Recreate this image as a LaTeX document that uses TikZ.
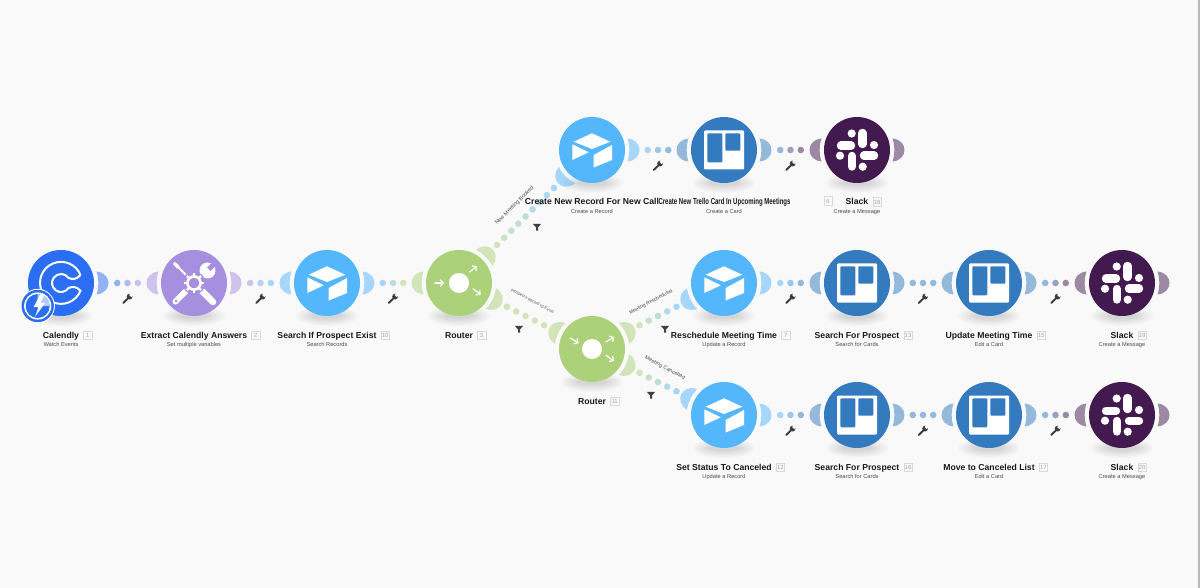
\documentclass[tikz,border=0pt]{standalone}
\usepackage{fontspec}
\usepackage{graphicx}
\setmainfont{Liberation Sans}
\usetikzlibrary{calc,arrows.meta}
\definecolor{bgc}{HTML}{F9F9F9}
\definecolor{cal}{HTML}{2B6DF3}
\definecolor{tool}{HTML}{A78FE0}
\definecolor{air}{HTML}{55B7FB}
\definecolor{rout}{HTML}{ABD27A}
\definecolor{tre}{HTML}{337ABF}
\definecolor{sla}{HTML}{431A4F}
\definecolor{ink}{HTML}{1A1A1A}
\tikzset{
 x=1pt,y=-1pt,
 modc/.style={circle,minimum size=66pt,inner sep=0pt,fill=#1,draw=none},
 titlelab/.style={font=\bfseries\fontsize{8.65}{10}\selectfont,text=ink,anchor=base,inner sep=0pt},
 sublab/.style={font=\fontsize{5.7}{7}\selectfont,text=black!70,anchor=base,inner sep=0pt},
 numbox/.style={draw=black!15,line width=.5pt,font=\fontsize{6}{6}\selectfont,text=black!35,minimum width=8.5pt,minimum height=8.5pt,inner sep=0pt},
 linklab/.style={font=\fontsize{5}{6}\selectfont,text=black!70,inner sep=0pt},
 rarrow/.style={white,line width=1.2pt,line cap=round,-{Straight Barb[length=3pt,width=6.5pt,line width=1.2pt]}},
}
\newcommand{\moon}[3]{%
 \begin{scope}[shift={(#1)},rotate=#2]
  \fill[#3,opacity=.5] (35.5,-11.5) .. controls (51.5,-10) and (51.5,10) .. (35.5,11.5) .. controls (38,4) and (38,-4) .. cycle;
 \end{scope}}
\newcommand{\shadowc}[1]{\foreach \s in {0,1,...,6}{\fill[black,opacity=.02] ($(#1)+(0,33)$) ellipse[x radius={31-2.6*\s},y radius={10-1.2*\s}];}}
\newcommand{\airicon}[1]{\begin{scope}[shift={(#1)}]
 \fill[white] (0,-16.7) -- (18.3,-8.3) -- (0,-1) -- (-18.3,-8.3) -- cycle;
 \fill[white] (1.7,5) -- (20,-5) -- (20,10) -- (1.7,17.5) -- cycle;
 \fill[white] (-19.7,-5.7) -- (-3.3,2.3) -- (-19.7,10) -- cycle;
 \end{scope}}
\newcommand{\treicon}[1]{\begin{scope}[shift={(#1)}]
 \fill[white,rounded corners=1pt] (-20,-19.5) rectangle (20,19.5);
 \fill[tre,rounded corners=1pt] (-16.7,-16.7) rectangle (-1.7,12.3);
 \fill[tre,rounded corners=1pt] (1.3,-16.7) rectangle (16.3,.7);
 \end{scope}}
\newcommand{\slaicon}[1]{\begin{scope}[shift={(#1)}]
 \begin{scope}[line cap=round,line width=8.4pt,white]
 \draw (-16,-4.3) -- (-6,-4.3);
 \draw (5.5,-17) -- (5.5,-6);
 \draw (17,5.7) -- (7,5.7);
 \draw (-5.3,16.5) -- (-5.3,6);
 \end{scope}
 \fill[white] (-5.3,-16.5) circle[radius=4.1];
 \fill[white] (17,-5) circle[radius=4.1];
 \fill[white] (5.7,16.7) circle[radius=4.1];
 \fill[white] (-17,5.7) circle[radius=4.1];
 \end{scope}}
\newcommand{\routa}[1]{\begin{scope}[shift={(#1)}]
 \fill[white] (0,0) circle[radius=10];
 \draw[rarrow] (-24,0) -- (-15,0);
 \draw[rarrow] (10.7,-11) -- (18,-17);
 \draw[rarrow] (14,5.7) -- (21.7,11.7);
 \end{scope}}
\newcommand{\routb}[1]{\begin{scope}[shift={(#1)}]
 \fill[white] (0,0) circle[radius=10];
 \draw[rarrow] (-21.7,-11) -- (-13.3,-6);
 \draw[rarrow] (14,-7) -- (22.3,-12);
 \draw[rarrow] (14,6.3) -- (22,12);
 \end{scope}}
\newcommand{\wrench}[1]{\begin{scope}[shift={(#1)}]
 \draw[ink!85,line width=1.9pt,line cap=round] (-4.2,4.4) -- (1,-.6);
 \fill[ink!85] (2.1,-1.9) circle[radius=2.9];
 \fill[bgc] (1.6,-3.6) -- (3.6,-5.6) -- (6,-3.4) -- (3.8,-1.4) -- cycle;
 \end{scope}}
\newcommand{\funnel}[2]{\fill[black!75] ($(#1,#2)+(-4.2,-3.2)$) -- ($(#1,#2)+(4.2,-3.2)$) -- ($(#1,#2)+(1,.5)$) -- ($(#1,#2)+(1,3.6)$) -- ($(#1,#2)+(-1,3.6)$) -- ($(#1,#2)+(-1,.5)$) -- cycle;}
\newcommand{\modlab}[4]{%
 \node[titlelab] (#1-t) at ($(#1)+(0,55)$) {#2};
 \node[numbox,anchor=west] (#1-n) at ($(#1-t.base east)+(4,-3)$) {#3};
 \node[sublab] (#1-s) at ($(#1)+(0,63.5)$) {#4};}
\newcommand{\linkdots}[7]{%
 \foreach \i [evaluate=\i as \pc using {int(100-100*\i/#5)},evaluate=\i as \tt using {#3+#4*\i}] in {0,...,#5}{%
  \fill[#6!\pc!#7,opacity=.5] ($(#1)!\tt!(#2)$) circle[radius=3.3];}}
\newcommand{\hdots}[4]{\linkdots{#1}{#2}{.4225}{.0775}{2}{#3}{#4}}
\begin{document}
\begin{tikzpicture}
\useasboundingbox (0,0) rectangle (1200,588);
\fill[bgc] (0,0) rectangle (1200,588);
\fill[black!28] (1198,0) rectangle (1200,588);
\coordinate (pa) at (61,283); \coordinate (pb) at (194,283); \coordinate (pc) at (327,283);
\coordinate (pd) at (459,283); \coordinate (pe) at (592,150); \coordinate (pf) at (724,150);
\coordinate (pg) at (857,150); \coordinate (ph) at (592,349); \coordinate (pi) at (724,283);
\coordinate (pj) at (857,283); \coordinate (pk) at (989,283); \coordinate (pl) at (1122,283);
\coordinate (pm) at (724,415); \coordinate (pn) at (857,415); \coordinate (po) at (989,415);
\coordinate (pq) at (1122,415);
\foreach \p in {pa,pb,pc,pd,pe,pf,pg,ph,pi,pj,pk,pl,pm,pn,po,pq}{\shadowc{\p}}
\moon{pa}{0}{cal}\moon{pb}{180}{tool}\moon{pb}{0}{tool}\moon{pc}{180}{air}\moon{pc}{0}{air}
\moon{pd}{180}{rout}\moon{pd}{45}{rout}\moon{pd}{-26}{rout}
\moon{pe}{225}{air}\moon{pe}{0}{air}\moon{pf}{180}{tre}\moon{pf}{0}{tre}\moon{pg}{180}{sla}\moon{pg}{0}{sla}
\moon{ph}{154}{rout}\moon{ph}{26}{rout}\moon{ph}{-26}{rout}
\moon{pi}{206}{air}\moon{pi}{0}{air}\moon{pj}{180}{tre}\moon{pj}{0}{tre}\moon{pk}{180}{tre}\moon{pk}{0}{tre}\moon{pl}{180}{sla}\moon{pl}{0}{sla}
\moon{pm}{154}{air}\moon{pm}{0}{air}\moon{pn}{180}{tre}\moon{pn}{0}{tre}\moon{po}{180}{tre}\moon{po}{0}{tre}\moon{pq}{180}{sla}\moon{pq}{0}{sla}
\node[modc=cal] (a) at (pa) {};
\node[modc=tool] (b) at (pb) {};
\node[modc=air] (c) at (pc) {};
\node[modc=rout] (d) at (pd) {};
\node[modc=air] (e) at (pe) {};
\node[modc=tre] (f) at (pf) {};
\node[modc=sla] (g) at (pg) {};
\node[modc=rout] (h) at (ph) {};
\node[modc=air] (i) at (pi) {};
\node[modc=tre] (j) at (pj) {};
\node[modc=tre] (k) at (pk) {};
\node[modc=sla] (l) at (pl) {};
\node[modc=air] (m) at (pm) {};
\node[modc=tre] (n) at (pn) {};
\node[modc=tre] (o) at (po) {};
\node[modc=sla] (q) at (pq) {};
\foreach \p in {pc,pe,pi,pm}{\airicon{\p}}
\foreach \p in {pf,pj,pk,pn,po}{\treicon{\p}}
\foreach \p in {pg,pl,pq}{\slaicon{\p}}
\routa{pd}\routb{ph}
% Calendly mark
\begin{scope}[shift={(pa)},white,line width=2pt]
 \draw (19.5,-8) arc[start angle=22,end angle=338,radius=21pt] .. controls (16,4) and (12,3) .. (7.5,5)
   arc[start angle=-34,end angle=-326,radius=9pt] .. controls (12,-3) and (16,-4) .. (19.5,-8);
\end{scope}
% trigger badge
\begin{scope}[shift={(37.7,306)}]
 \fill[white] (0,0) circle[radius=17.2];
 \fill[cal] (0,0) circle[radius=16.2];
 \fill[white] (0,0) circle[radius=13.6];
 \fill[cal] (0,0) circle[radius=12];
 \fill[cal!35!white] (0,0) -- (0,-12) .. controls (6.6,-12) and (12,-6.6) .. (12,0) -- cycle;
 \fill[white] (2.5,-11.5) -- (-4,1) -- (.8,1) -- (-2.4,10.5) -- (7.5,-3.2) -- (2.8,-3.2) -- (7,-11.5) -- cycle;
\end{scope}
% tools mark
\begin{scope}[shift={(pb)}]
 \draw[white,line width=2pt] (-18,-18) -- (-8,-8);
 \draw[white,line width=3.2pt,line cap=round] (-19.5,-19.5) -- (-15.5,-15.5);
 \draw[white,line width=6.5pt,line cap=round] (6,6) -- (19,19);
 \draw[white,line width=6pt,line cap=round] (-18.5,18.5) -- (-6,6);
 \fill[tool] (-18,18) circle[radius=1.5];
 \draw[white,line width=5pt] (6,-6) -- (14,-13);
 \fill[white] (13.5,-12.5) circle[radius=8];
 \fill[tool] (13,-15.5) -- (16.5,-12) -- (24,-19.5) -- (20.5,-23) -- cycle;
 \fill[tool] (0,0) circle[radius=11.5];
 \foreach \t in {0,45,...,315}{\draw[white,line width=2.4pt] (\t:6) -- (\t:10);}
 \draw[white,line width=2.6pt] (0,0) circle[radius=6.6];
\end{scope}
% connector dots
\hdots{a}{b}{cal}{tool}
\hdots{b}{c}{tool}{air}
\hdots{c}{d}{air}{rout}
\linkdots{d}{e}{.286}{.0535}{8}{rout}{air}
\linkdots{d}{h}{.36}{.07}{4}{rout}{rout}
\linkdots{h}{i}{.36}{.07}{4}{rout}{air}
\linkdots{h}{m}{.36}{.07}{4}{rout}{air}
\hdots{e}{f}{air}{tre}
\hdots{f}{g}{tre}{sla}
\hdots{i}{j}{air}{tre}
\hdots{j}{k}{tre}{tre}
\hdots{k}{l}{tre}{sla}
\hdots{m}{n}{air}{tre}
\hdots{n}{o}{tre}{tre}
\hdots{o}{q}{tre}{sla}
\foreach \u/\v in {a/b,b/c,c/d,e/f,f/g,i/j,j/k,k/l,m/n,n/o,o/q}{\wrench{$(\u)!.5!(\v)+(0,15.5)$}}
\funnel{537}{227}\funnel{519}{329}\funnel{665}{329}\funnel{651}{395}
\node[linklab,rotate=45,font=\fontsize{5.5}{6}\selectfont] (la) at (514.5,205.5) {New Meeting Booked};
\node[linklab,rotate=-28,font=\fontsize{3.9}{5}\selectfont] (lb) at (532.5,301.5) {Prospect's Record ID Exists};
\node[linklab,rotate=28] (lc) at (651,302) {Meeting Rescheduled};
\node[linklab,rotate=-28,font=\fontsize{5.4}{6}\selectfont] (ld) at (665,368) {Meeting Cancelled};
\modlab{a}{Calendly}{1}{Watch Events}
\modlab{b}{Extract Calendly Answers}{2}{Set multiple variables}
\modlab{c}{Search If Prospect Exist}{10}{Search Records}
\node[titlelab] (d-t) at ($(d)+(0,55)$) {Router};
\node[numbox,anchor=west] (d-n) at ($(d-t.base east)+(4,-3)$) {3};
\node[titlelab] (e-t) at ($(e)+(0,55)$) {Create New Record For New Call};
\node[sublab] (e-s) at ($(e)+(0,63.5)$) {Create a Record};
\node[titlelab] (f-t) at ($(f)+(.5,55)$) {\resizebox{132pt}{\height}{Create New Trello Card In Upcoming Meetings}};
\node[sublab] (f-s) at ($(f)+(0,63.5)$) {Create a Card};
\node[numbox] (f-n) at (828,201) {6};
\modlab{g}{Slack}{18}{Create a Message}
\node[titlelab] (h-t) at ($(h)+(0,55)$) {Router};
\node[numbox,anchor=west] (h-n) at ($(h-t.base east)+(4,-3)$) {11};
\modlab{i}{Reschedule Meeting Time}{7}{Update a Record}
\modlab{j}{Search For Prospect}{13}{Search for Cards}
\modlab{k}{Update Meeting Time}{15}{Edit a Card}
\modlab{l}{Slack}{19}{Create a Message}
\modlab{m}{Set Status To Canceled}{12}{Update a Record}
\modlab{n}{Search For Prospect}{16}{Search for Cards}
\modlab{o}{Move to Canceled List}{17}{Edit a Card}
\modlab{q}{Slack}{20}{Create a Message}
\end{tikzpicture}
\end{document}
